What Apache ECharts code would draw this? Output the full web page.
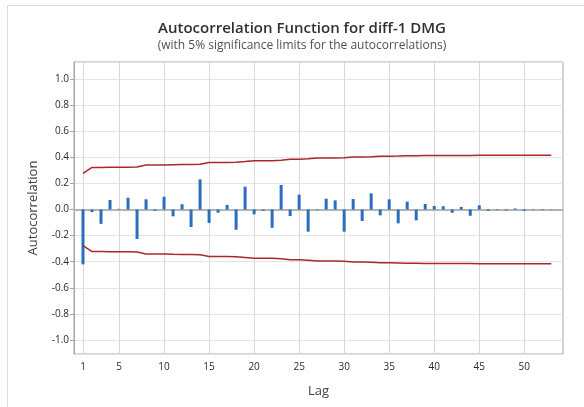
<!DOCTYPE html>
<html>
<head>
<meta charset="utf-8">
<script src="https://cdn.jsdelivr.net/npm/echarts@6/dist/echarts.min.js"></script>
<style>
    html, body { margin: 0; padding: 0; background: #fff; }
    #chart { width: 584px; height: 407px; }
</style>
</head>
<body>
<div id="chart"></div>
<script>
// lags 1..53
const lags = [
    1, 2, 3, 4, 5, 6, 7, 8, 9, 10, 11, 12, 13, 14, 15, 16, 17, 18, 19, 20,
    21, 22, 23, 24, 25, 26, 27, 28, 29, 30, 31, 32, 33, 34, 35, 36, 37, 38, 39, 40,
    41, 42, 43, 44, 45, 46, 47, 48, 49, 50, 51, 52, 53
];
const acf = [
    -0.42, -0.02, -0.11, 0.073, 0.005, 0.09, -0.226, 0.078, -0.01, 0.098,
    -0.052, 0.04, -0.134, 0.231, -0.103, -0.025, 0.035, -0.155, 0.175, -0.037,
    -0.01, -0.14, 0.188, -0.05, 0.114, -0.17, -0.005, 0.083, 0.07, -0.17,
    0.08, -0.088, 0.124, -0.045, 0.078, -0.106, 0.06, -0.083, 0.042, 0.027,
    0.025, -0.025, 0.02, -0.048, 0.032, -0.01, -0.005, -0.008, 0.008, -0.01,
    0.003, -0.005, 0.003
];
const upperLimit = [
    0.277, 0.322, 0.322, 0.323, 0.324, 0.324, 0.326, 0.341, 0.341, 0.341,
    0.343, 0.344, 0.344, 0.347, 0.360, 0.361, 0.361, 0.362, 0.367, 0.374,
    0.374, 0.374, 0.378, 0.385, 0.385, 0.388, 0.394, 0.394, 0.395, 0.396,
    0.402, 0.403, 0.404, 0.408, 0.408, 0.409, 0.411, 0.412, 0.413, 0.413,
    0.413, 0.414, 0.414, 0.414, 0.415, 0.415, 0.415, 0.415, 0.415, 0.415,
    0.415, 0.415, 0.415
];
const lowerLimit = [
    -0.277, -0.322, -0.322, -0.323, -0.324, -0.324, -0.326, -0.341, -0.341, -0.341,
    -0.343, -0.344, -0.344, -0.347, -0.360, -0.361, -0.361, -0.362, -0.367, -0.374,
    -0.374, -0.374, -0.378, -0.385, -0.385, -0.388, -0.394, -0.394, -0.395, -0.396,
    -0.402, -0.403, -0.404, -0.408, -0.408, -0.409, -0.411, -0.412, -0.413, -0.413,
    -0.413, -0.414, -0.414, -0.414, -0.415, -0.415, -0.415, -0.415, -0.415, -0.415,
    -0.415, -0.415, -0.415
];
const lagTicks = [1, 5, 10, 15, 20, 25, 30, 35, 40, 45, 50];

const font = "'Open Sans', 'Noto Sans', sans-serif";
const gridColor = "#e4e4e4";
const frameColor = "#a6a6a6";
const yMin = -1.107;
const yMax = 1.13;

let myChart = echarts.init(document.getElementById("chart"), null, { renderer: "canvas" });

let option = {
    backgroundColor: "#fff",
    animation: false,
    graphic: [
        {
            type: "rect",
            shape: { x: 7.5, y: 5.5, width: 620, height: 440 },
            style: { fill: "none", stroke: "#dcdcdc", lineWidth: 1 },
            silent: true
        }
    ],
    title: {
        text: "Autocorrelation Function for diff-1 DMG",
        subtext: "(with 5% significance limits for the autocorrelations)",
        left: 297,
        top: 16,
        textAlign: "center",
        itemGap: 4,
        textStyle: { fontFamily: font, fontSize: 15, fontWeight: 600, color: "#303030" },
        subtextStyle: { fontFamily: font, fontSize: 12, color: "#505050" }
    },
    grid: {
        left: 74,
        right: 21,
        top: 62,
        bottom: 53,
        show: true,
        borderColor: frameColor,
        borderWidth: 1,
        containLabel: false
    },
    xAxis: {
        type: "value",
        min: 0,
        max: 54.3,
        name: "Lag",
        nameLocation: "middle",
        nameGap: 31,
        nameTextStyle: { fontFamily: font, fontSize: 13, color: "#404040" },
        axisLine: { show: true, lineStyle: { color: frameColor } },
        axisTick: { show: true, length: 4, lineStyle: { color: frameColor }, customValues: lagTicks },
        axisLabel: {
            customValues: lagTicks,
            fontFamily: font,
            fontSize: 10,
            color: "#2a2a2a",
            margin: 8
        },
        splitLine: { show: false }
    },
    yAxis: {
        type: "value",
        min: yMin,
        max: yMax,
        splitNumber: 11,
        name: "Autocorrelation",
        nameLocation: "middle",
        nameGap: 34,
        nameTextStyle: { fontFamily: font, fontSize: 13, color: "#404040" },
        axisLine: { show: true, lineStyle: { color: frameColor } },
        axisTick: { show: true, length: 4, lineStyle: { color: frameColor } },
        axisLabel: {
            fontFamily: font,
            fontSize: 10,
            color: "#2a2a2a",
            margin: 5,
            showMinLabel: false,
            showMaxLabel: false,
            formatter: v => v.toFixed(1)
        },
        splitLine: { show: true, lineStyle: { color: gridColor } }
    },
    series: [
        {
            // vertical grid lines at the lag ticks
            name: "lagGrid",
            type: "line",
            data: [],
            silent: true,
            z: 1,
            markLine: {
                silent: true,
                z: 1,
                symbol: "none",
                label: { show: false },
                emphasis: { disabled: true },
                lineStyle: { color: "#d8d8d8", width: 1, type: "solid", opacity: 1 },
                data: lagTicks.map(v => [{ coord: [v, yMin] }, { coord: [v, yMax] }])
            }
        },
        {
            name: "zero",
            type: "line",
            data: [],
            silent: true,
            z: 2,
            markLine: {
                silent: true,
                z: 2,
                symbol: "none",
                label: { show: false },
                emphasis: { disabled: true },
                lineStyle: { color: "#b4b4b4", width: 2, type: "solid", opacity: 1 },
                data: [{ yAxis: 0 }]
            }
        },
        {
            name: "ACF",
            type: "bar",
            barWidth: 3,
            itemStyle: { color: "#2a6ebd" },
            data: lags.map((lag, i) => [lag, acf[i]]),
            z: 3
        },
        {
            name: "Upper limit",
            type: "line",
            symbol: "none",
            lineStyle: { color: "#a8282b", width: 1.5 },
            data: lags.map((lag, i) => [lag, upperLimit[i]]),
            z: 4
        },
        {
            name: "Lower limit",
            type: "line",
            symbol: "none",
            lineStyle: { color: "#a8282b", width: 1.5 },
            data: lags.map((lag, i) => [lag, lowerLimit[i]]),
            z: 4
        }
    ]
};
myChart.setOption(option);
</script>
</body>
</html>
